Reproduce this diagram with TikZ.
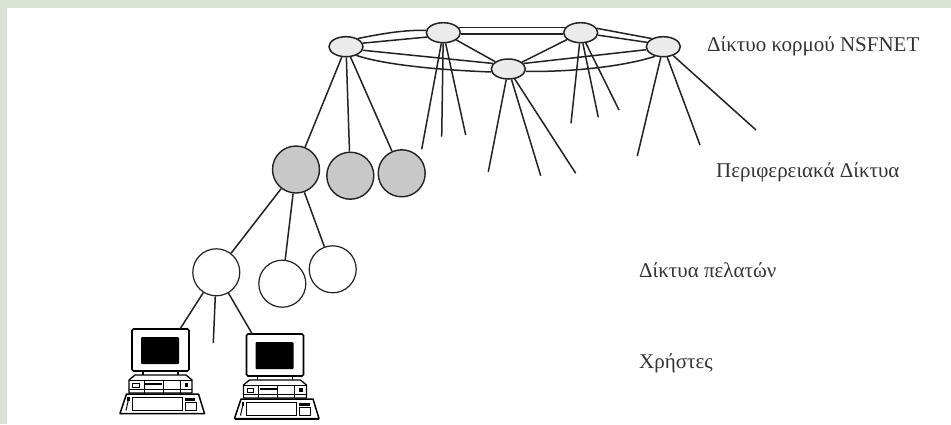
\documentclass[tikz,border=0pt]{standalone}
\usepackage{fontspec}
\setmainfont{Liberation Serif}
\usetikzlibrary{shapes.geometric}
\definecolor{framegreen}{HTML}{D9E2D3}
\definecolor{inkdark}{HTML}{222222}
\definecolor{corefill}{HTML}{EBEBEB}
\definecolor{regionfill}{HTML}{C8C8C8}
\definecolor{labelink}{HTML}{333333}
\tikzset{
  core/.style={ellipse,draw=inkdark,line width=1.5pt,fill=corefill,minimum width=34pt,minimum height=20pt,inner sep=0pt},
  region/.style={circle,draw=inkdark,line width=1.4pt,fill=regionfill,minimum size=47pt,inner sep=0pt},
  client/.style={circle,draw=inkdark,line width=1.2pt,fill=white,minimum size=47pt,inner sep=0pt},
  link/.style={draw=inkdark,line width=1.5pt},
  monitor/.style={rectangle,rounded corners=1.5pt,draw=black,line width=1.7pt,fill=white,minimum width=57pt,minimum height=42pt,inner sep=0pt},
  tag/.style={font=\fontsize{21pt}{24pt}\selectfont,text=labelink,anchor=west,inner sep=0pt},
  part/.style={draw=black,line width=1.3pt,fill=white,line join=round},
  thin part/.style={draw=black,line width=1pt},
}
\newcommand{\pcdetail}{%
  \fill[black,rounded corners=1pt] (9,8) rectangle (47,35);
  \draw[part] (11,42) rectangle (46,49);
  \draw[part] (-3,64) -- (-3,51) -- (3,46) -- (54,46) -- (60,51) -- (60,64) -- cycle;
  \draw[thin part] (-3,51.5) -- (60,51.5) (-3,60) -- (60,60);
  \draw[thin part] (12,51.5) -- (12,64) (31,51.5) -- (31,64) (48,51.5) -- (48,64);
  \draw[thin part] (0.5,54) rectangle (7,58);
  \fill[black] (13,53.6) rectangle (30,56.2);
  \fill[black] (52.5,54) rectangle (56,58);
  \draw[part,line width=1.5pt] (-12,84.5) -- (-5.5,65) -- (66.5,65) -- (72.5,84.5) -- cycle;
  \draw[thin part] (0,68) rectangle (50,81.5);
  \draw[thin part] (-3,68) -- (-6,81.5);
  \draw[thin part] (53,73) rectangle (64,81.5);
  \fill[black] (52.5,69) rectangle (63,71.8);
  \fill[black] (-5,68) rectangle (-2.5,72);
}
\begin{document}
\begin{tikzpicture}[x=1pt,y=-1pt]
\useasboundingbox (0,0) rectangle (951,424);
\fill[framegreen] (0,0) rectangle (951,424);
\fill[white] (7,8) rectangle (951,424);

% backbone routers
\node[core] (e1) at (346,46.7) {};
\node[core] (e2) at (443.3,32.7) {};
\node[core] (e3) at (580.7,32.7) {};
\node[core] (e4) at (663.3,46.7) {};
\node[core] (e5) at (508.3,69) {};

% regional and client networks
\node[region] (g1) at (296,169.5) {};
\node[region] (g2) at (350.3,175.7) {};
\node[region] (g3) at (401.7,173.3) {};
\node[client] (w1) at (216.3,272.3) {};
\node[client] (w2) at (282.3,283.7) {};
\node[client] (w3) at (332.7,269.3) {};

% monitors
\node[monitor] (m1) at (160.5,350) {};
\node[monitor] (m2) at (275,355) {};
\begin{scope}[shift={(132,329)}]\pcdetail\end{scope}
\begin{scope}[shift={(246.5,334)}]\pcdetail
  \draw[black,line width=2pt] (-12,84.5) -- (72.5,84.5);
\end{scope}

% free ends
\coordinate (a1) at (421.7,149.3);
\coordinate (a2) at (441.7,136.7);
\coordinate (a3) at (465.7,135);
\coordinate (b1) at (488.3,171.7);
\coordinate (b2) at (540.7,175.7);
\coordinate (b3) at (575.7,173.3);
\coordinate (c1) at (571,123.3);
\coordinate (c2) at (598.3,117.3);
\coordinate (c3) at (619,110);
\coordinate (d1) at (637.3,156);
\coordinate (d2) at (700,145);
\coordinate (d3) at (756,130);
\coordinate (u1) at (213.3,343);
\coordinate (t1) at (180,329);
\coordinate (t2) at (252.3,334);

% backbone ring
\draw[link] (e1.35) .. controls (385,33) and (405,30) .. (e2.172);
\draw[link] (e1.12) -- (e2.195);
\draw[link] (e2.18) -- (e3.162);
\draw[link] (e2.-5) -- (e3.185);
\draw[link] (e3.15) -- (e4.145);
\draw[link] (e3.-8) -- (e4.165);
\draw[link] (e1.-12) -- (e5.160);
\draw[link] (e1.-40) .. controls (385,65) and (440,70) .. (e5.190);
\draw[link] (e5.20) -- (e4.190);
\draw[link] (e5.-8) .. controls (575,72) and (625,66) .. (e4.-130);
\draw[link] (e2) -- (e5);
\draw[link] (e3) -- (e5);

% drops from backbone
\draw[link] (e1) -- (g1);
\draw[link] (e1) -- (g2);
\draw[link] (e1) -- (g3);
\draw[link] (e2) -- (a1);
\draw[link] (e2) -- (a2);
\draw[link] (e2) -- (a3);
\draw[link] (e5) -- (b1);
\draw[link] (e5) -- (b2);
\draw[link] (e5) -- (b3);
\draw[link] (e3) -- (c1);
\draw[link] (e3) -- (c2);
\draw[link] (e3) -- (c3);
\draw[link] (e4) -- (d1);
\draw[link] (e4) -- (d2);
\draw[link] (e4) -- (d3);

% tree
\draw[link] (g1) -- (w1);
\draw[link] (g1) -- (w2);
\draw[link] (g1) -- (w3);
\draw[link] (w1) -- (t1);
\draw[link] (w1) -- (u1);
\draw[link] (w1) -- (t2);

% labels
\node[tag] (l1) at (707,46) {Δίκτυο κορμού NSFNET};
\node[tag] (l2) at (716,172) {Περιφερειακά Δίκτυα};
\node[tag] (l3) at (639,270) {Δίκτυα πελατών};
\node[tag] (l4) at (639,363) {Χρήστες};
\end{tikzpicture}
\end{document}
